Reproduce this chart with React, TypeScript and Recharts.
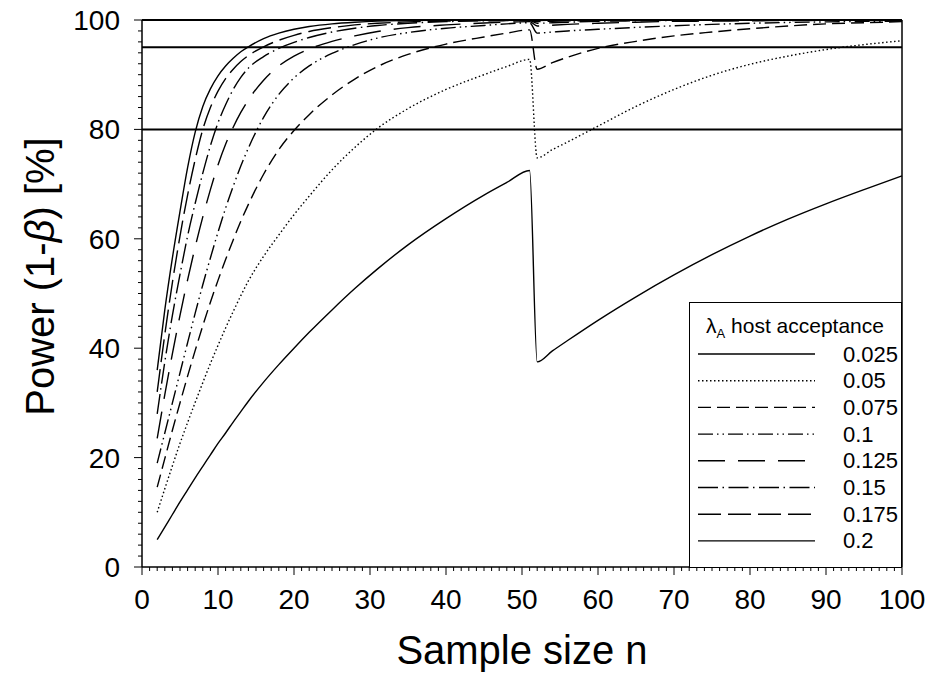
import { LineChart, Line, XAxis, YAxis, ReferenceLine, Legend, Label } from "recharts";

const FONT = "Liberation Sans, Arial, sans-serif";

const sampleSizes = [2, 3, 4, 5, 6, 7, 8, 9, 10, 11, 12, 13, 14, 16, 18, 20, 22, 25, 28, 31, 35, 40, 45, 48, 51, 52, 54, 56, 60, 65, 70, 75, 80, 85, 90, 95, 100];

const lambdaLabels = ["0.025", "0.05", "0.075", "0.1", "0.125", "0.15", "0.175", "0.2"];

const power0025 = [5.0, 7.3, 9.6, 11.9, 14.1, 16.3, 18.4, 20.5, 22.6, 24.5, 26.5, 28.4, 30.3, 33.8, 37.0, 40.0, 42.9, 47.0, 50.9, 54.5, 58.9, 63.7, 68.0, 70.3, 72.5, 37.5, 39.5, 41.4, 45.1, 49.4, 53.4, 57.1, 60.5, 63.6, 66.4, 69.0, 71.5];
const power005 = [10, 14.3, 18.5, 22.6, 26.4, 30.1, 33.7, 37.2, 40.5, 43.7, 46.7, 49.6, 52.3, 56.8, 60.7, 64.4, 67.8, 72.6, 76.7, 80.2, 83.8, 87.3, 90.0, 91.5, 92.8, 74.8, 76.3, 77.7, 80.6, 84.2, 87.3, 89.9, 91.9, 93.4, 94.6, 95.5, 96.2];
const power0075 = [14.6, 19.8, 25.0, 30.0, 34.9, 39.6, 44.1, 48.4, 52.4, 56.2, 59.8, 63.2, 66.3, 71.8, 76.3, 79.8, 82.7, 86.3, 89.2, 91.5, 93.7, 95.6, 96.9, 97.6, 98.2, 91.0, 92.2, 93.2, 94.8, 96.1, 97.1, 97.8, 98.4, 98.9, 99.3, 99.5, 99.7];
const power01 = [19.0, 24.5, 30.0, 35.5, 41.0, 46.4, 51.6, 56.5, 61.2, 65.6, 69.6, 73.3, 76.6, 82.2, 86.4, 89.4, 91.6, 93.9, 95.5, 96.7, 97.7, 98.5, 99.0, 99.3, 99.5, 97.6, 97.8, 98.0, 98.3, 98.65, 98.95, 99.2, 99.4, 99.55, 99.65, 99.75, 99.8];
const power0125 = [23.5, 31.5, 39.0, 46.0, 52.5, 58.5, 64.0, 69.0, 73.5, 77.3, 80.4, 83.1, 85.4, 89.0, 91.6, 93.4, 94.7, 96.1, 97.1, 97.9, 98.6, 99.1, 99.45, 99.6, 99.7, 98.9, 99.05, 99.2, 99.4, 99.6, 99.75, 99.8, 99.85, 99.9, 99.93, 99.95, 99.97];
const power015 = [28.0, 37.5, 46.0, 53.5, 60.5, 66.5, 72.0, 77.0, 81.2, 84.5, 87.3, 89.5, 91.2, 93.3, 94.8, 95.9, 96.8, 97.8, 98.5, 99.0, 99.4, 99.7, 99.85, 99.88, 99.9, 99.4, 99.5, 99.6, 99.75, 99.85, 99.9, 99.93, 99.95, 99.97, 100, 100, 100];
const power0175 = [32, 42.5, 52, 60.5, 68, 74.5, 80, 84, 87, 89.3, 91.0, 92.4, 93.5, 95.1, 96.3, 97.2, 97.9, 98.6, 99.1, 99.4, 99.65, 99.8, 99.9, 99.93, 99.95, 99.7, 99.78, 99.85, 99.9, 99.95, 100, 100, 100, 100, 100, 100, 100];
const power02 = [36, 47, 56.5, 65, 73, 79.5, 84.2, 87.4, 89.8, 91.6, 93.0, 94.2, 95.1, 96.6, 97.6, 98.3, 98.8, 99.3, 99.6, 99.8, 99.9, 99.95, 100, 100, 100, 99.9, 99.95, 100, 100, 100, 100, 100, 100, 100, 100, 100, 100];

const thresholds = [80, 95];
const xMajor = [0, 10, 20, 30, 40, 50, 60, 70, 80, 90, 100];
const yMajor = [0, 20, 40, 60, 80, 100];

const seriesValues = [power0025, power005, power0075, power01, power0125, power015, power0175, power02];
const dashes = ["", "1.5 2.5", "13 6", "15 4 1.5 4 1.5 4", "27 13", "20 4.5 1.5 4.5", "23 7", ""];

const data = sampleSizes.map((n, i) => {
  const row: any = { n };
  seriesValues.forEach((vals, k) => {
    row["s" + k] = vals[i];
  });
  return row;
});

const xTicks = Array.from({ length: 101 }, (_, i) => i);
const yTicks = Array.from({ length: 51 }, (_, i) => i * 2);

const XTick = (props: any) => {
  const { x, y, payload } = props;
  const major = xMajor.includes(payload.value);
  return (
    <g>
      <line x1={x} y1={y} x2={x} y2={y + (major ? 8 : 4)} stroke="#000" strokeWidth={1} />
      {major && (
        <text x={x} y={y + 42} textAnchor="middle" fontSize={28} fontFamily={FONT} fill="#000">
          {payload.value}
        </text>
      )}
    </g>
  );
};

const YTick = (props: any) => {
  const { x, y, payload } = props;
  const major = yMajor.includes(payload.value);
  return (
    <g>
      <line x1={x - (major ? 8 : 4)} y1={y} x2={x} y2={y} stroke="#000" strokeWidth={1} />
      {major && (
        <text x={x - 22} y={y} dy="0.355em" textAnchor="end" fontSize={28} fontFamily={FONT} fill="#000">
          {payload.value}
        </text>
      )}
    </g>
  );
};

const YTitle = (props: any) => {
  const vb = props.viewBox;
  const cx = vb.x - 2;
  const cy = vb.y + vb.height / 2 - 17;
  return (
    <text x={cx} y={cy} transform={`rotate(-90 ${cx} ${cy})`} textAnchor="middle" dominantBaseline="central" fontSize={40} fontFamily={FONT} fill="#000">
      Power (1-<tspan fontStyle="italic">β</tspan>) [%]
    </text>
  );
};

const XTitle = (props: any) => {
  const vb = props.viewBox;
  return (
    <text x={vb.x + vb.width / 2} y={vb.y + 97} textAnchor="middle" fontSize={40} fontFamily={FONT} fill="#000">
      Sample size n
    </text>
  );
};

const LegendBox = () => (
  <div style={{ width: 213, height: 266, border: "1.5px solid #000", boxSizing: "border-box", background: "#fff" }}>
    <svg width={210} height={263} style={{ display: "block" }}>
      <text x={105} y={30} textAnchor="middle" fontSize={21} fontFamily={FONT} fill="#000">
        λ<tspan fontSize={13} dy={5}>A</tspan>
        <tspan dy={-5}> host acceptance</tspan>
      </text>
      {lambdaLabels.map((lab, i) => {
        const cy = 51 + i * 26.7;
        return (
          <g key={lab}>
            <line x1={8} x2={125} y1={cy} y2={cy} stroke="#000" strokeWidth={1.4} strokeDasharray={dashes[i] || undefined} />
            <text x={153} y={cy + 7.5} fontSize={22} fontFamily={FONT} fill="#000">
              {lab}
            </text>
          </g>
        );
      })}
    </svg>
  </div>
);

export default function App() {
  return (
    <div style={{ fontFamily: FONT, position: "absolute", left: 0, top: 0 }}>
      <LineChart width={929} height={682} data={data} margin={{ top: 20, right: 27, left: 42, bottom: 45 }}>
        <XAxis
          dataKey="n"
          type="number"
          domain={[0, 100]}
          ticks={xTicks}
          interval={0}
          tickSize={0}
          tickMargin={0}
          tick={<XTick />}
          height={70}
          axisLine={{ stroke: "#000", strokeWidth: 1.5 }}
        >
          <Label content={<XTitle />} />
        </XAxis>
        <YAxis
          type="number"
          domain={[0, 100]}
          ticks={yTicks}
          interval={0}
          tickSize={0}
          tickMargin={0}
          tick={<YTick />}
          width={100}
          axisLine={{ stroke: "#000", strokeWidth: 1.5 }}
        >
          <Label content={<YTitle />} />
        </YAxis>
        <ReferenceLine y={100} stroke="#000" strokeWidth={2} />
        <ReferenceLine x={100} stroke="#000" strokeWidth={1.5} />
        {thresholds.map((t) => (
          <ReferenceLine key={t} y={t} stroke="#000" strokeWidth={2} />
        ))}
        {seriesValues.map((_, k) => (
          <Line
            key={k}
            dataKey={"s" + k}
            type="monotone"
            stroke="#000"
            strokeWidth={1.4}
            strokeDasharray={dashes[k] || undefined}
            dot={false}
            activeDot={false}
            isAnimationActive={false}
            name={lambdaLabels[k]}
          />
        ))}
        <Legend
          layout="vertical"
          align="center"
          verticalAlign="middle"
          wrapperStyle={{ left: 689, top: 302, width: 213, height: 266 }}
          content={() => <LegendBox />}
        />
      </LineChart>
    </div>
  );
}
